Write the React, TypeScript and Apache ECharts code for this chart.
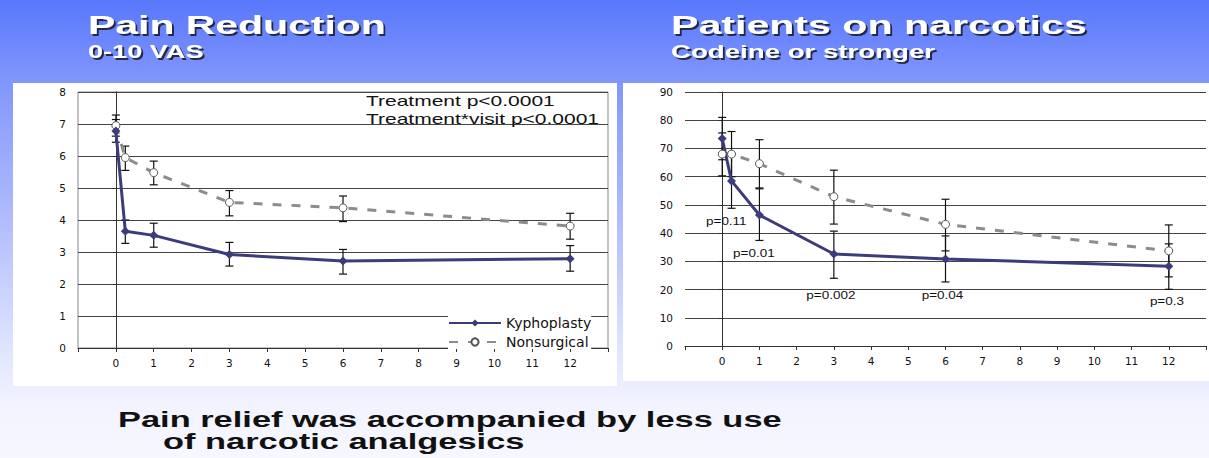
import React, { useEffect, useRef } from 'react';
import * as echarts from 'echarts';

// ---- data ----
const months = [0, 0.25, 1, 3, 6, 12];

const painKypho = [6.78, 3.65, 3.52, 2.92, 2.72, 2.79];
const painKyphoLow = [6.43, 3.27, 3.15, 2.56, 2.31, 2.4];
const painKyphoHigh = [7.14, 4.0, 3.9, 3.3, 3.08, 3.2];
const painNon = [6.95, 5.95, 5.48, 4.55, 4.38, 3.81];
const painNonLow = [6.62, 5.55, 5.1, 4.13, 3.95, 3.4];
const painNonHigh = [7.28, 6.31, 5.84, 4.92, 4.75, 4.21];

const narcKypho = [73.5, 58.5, 46.4, 32.6, 30.8, 28.3];
const narcKyphoLow = [66, 48.8, 37.4, 24, 22.7, 20.1];
const narcKyphoHigh = [81, 68.2, 55.7, 40.7, 39, 36.2];
const narcNon = [68, 68, 64.6, 52.9, 43.1, 33.7];
const narcNonLow = [60.3, 60, 56, 43.2, 33.7, 24.5];
const narcNonHigh = [75.5, 76, 73.1, 62.3, 52, 42.9];

const pLabels = ['p=0.11', 'p=0.01', 'p=0.002', 'p=0.04', 'p=0.3'];
const pLabelX = [0.11, 0.85, 2.92, 5.92, 11.95];
const pLabelY = [44, 32.8, 18, 18, 15.6];

const xMin = -1;
const xMax = 13;
const painMax = 8;
const narcMax = 90;

const KYPHO = '#3c3c7c';
const NON = '#8c8c8c';
const FONT = '"Liberation Sans", Arial, Helvetica, sans-serif';
const TICKFONT = '"DejaVu Sans", "Liberation Sans", sans-serif';

const errorBar = (params: any, api: any) => {
  const x = api.value(0);
  const lo = api.coord([x, api.value(1)]);
  const hi = api.coord([x, api.value(2)]);
  const hw = 4;
  const st = { stroke: '#111', lineWidth: 1.2 };
  return {
    type: 'group',
    children: [
      { type: 'line', shape: { x1: lo[0], y1: lo[1], x2: hi[0], y2: hi[1] }, style: st },
      { type: 'line', shape: { x1: lo[0] - hw, y1: lo[1], x2: lo[0] + hw, y2: lo[1] }, style: st },
      { type: 'line', shape: { x1: hi[0] - hw, y1: hi[1], x2: hi[0] + hw, y2: hi[1] }, style: st },
    ],
  };
};

const pLabelItem = (params: any, api: any) => {
  const p = api.coord([api.value(0), api.value(1)]);
  return {
    type: 'text',
    x: p[0],
    y: p[1],
    scaleX: 1.35,
    style: {
      text: pLabels[params.dataIndex],
      fontSize: 10,
      fontFamily: FONT,
      fill: '#111',
      align: 'center',
      verticalAlign: 'middle',
    },
  };
};

const mkX = (gi: number) => ({
  type: 'value',
  gridIndex: gi,
  min: xMin,
  max: xMax,
  interval: 1,
  axisLine: { show: true, lineStyle: { color: '#333', width: 1 } },
  axisTick: { show: true, inside: false, length: 4, lineStyle: { color: '#333' } },
  axisLabel: {
    margin: 9,
    fontSize: 10.5,
    fontFamily: TICKFONT,
    color: '#111',
    formatter: (v: number) => (v < 0 || v > 12 ? '' : String(v)),
  },
  splitLine: { show: false },
});

const mkY = (gi: number, max: number, interval: number) => ({
  type: 'value',
  gridIndex: gi,
  min: 0,
  max,
  interval,
  axisLine: { show: true, lineStyle: { color: '#333', width: 1 } },
  axisTick: { show: true, inside: false, length: 4, lineStyle: { color: '#333' } },
  axisLabel: { margin: 12, fontSize: 10.5, fontFamily: TICKFONT, color: '#111' },
  splitLine: { show: true, lineStyle: { color: '#444', width: 1 } },
});

const lineSeries = (name: string, gi: number, ys: number[], kypho: boolean) => ({
  type: 'line',
  name,
  xAxisIndex: gi,
  yAxisIndex: gi,
  z: 3,
  data: months.map((m, i) => [m, ys[i]]),
  symbol: kypho ? 'diamond' : 'circle',
  symbolSize: kypho ? 9 : 8,
  showSymbol: true,
  itemStyle: kypho
    ? { color: KYPHO }
    : { color: '#fff', borderColor: '#555', borderWidth: 1 },
  lineStyle: kypho
    ? { color: KYPHO, width: 3 }
    : { color: NON, width: 3, type: [9, 10] },
});

const errSeries = (gi: number, lo: number[], hi: number[]) => ({
  type: 'custom',
  xAxisIndex: gi,
  yAxisIndex: gi,
  z: 2,
  renderItem: errorBar,
  encode: { x: 0, y: [1, 2] },
  data: months.map((m, i) => [m, lo[i], hi[i]]),
});

const titleText = (text: string, x: number, y: number, size: number, sx: number) => ({
  type: 'text',
  x,
  y,
  scaleX: sx,
  z: 20,
  style: {
    text,
    fontSize: size,
    fontWeight: 'bold',
    fontFamily: FONT,
    fill: '#ffffff',
    align: 'left',
    verticalAlign: 'middle',
    textShadowColor: 'rgba(20,20,40,0.85)',
    textShadowOffsetX: 2,
    textShadowOffsetY: 2,
    textShadowBlur: 1,
  },
});

const plainText = (text: string, x: number, y: number, size: number, sx: number, bold: boolean) => ({
  type: 'text',
  x,
  y,
  scaleX: sx,
  z: 20,
  style: {
    text,
    fontSize: size,
    fontWeight: bold ? 'bold' : 'normal',
    fontFamily: FONT,
    fill: '#111',
    align: 'left',
    verticalAlign: 'middle',
  },
});

export default function App() {
  const ref = useRef<HTMLDivElement>(null);
  useEffect(() => {
    if (!ref.current) return;
    const chart = echarts.init(ref.current, undefined, { renderer: 'svg' });
    chart.setOption({
      animation: false,
      textStyle: { fontFamily: FONT },
      grid: [
        { left: 78, top: 92, width: 530, height: 256, show: true, borderColor: '#888', borderWidth: 1, backgroundColor: 'transparent' },
        { left: 685, top: 92, width: 526, height: 254 },
      ],
      xAxis: [mkX(0), mkX(1)],
      yAxis: [mkY(0, painMax, 1), mkY(1, narcMax, 10)],
      legend: {
        data: ['Kyphoplasty', 'Nonsurgical'],
        orient: 'vertical',
        left: 448,
        top: 316,
        itemWidth: 52,
        itemHeight: 9,
        itemGap: 5,
        textStyle: { fontSize: 14, fontFamily: TICKFONT, color: '#111' },
        backgroundColor: '#fff',
        padding: 0,
      },
      series: [
        errSeries(0, painNonLow, painNonHigh),
        errSeries(0, painKyphoLow, painKyphoHigh),
        lineSeries('Nonsurgical', 0, painNon, false),
        lineSeries('Kyphoplasty', 0, painKypho, true),
        errSeries(1, narcNonLow, narcNonHigh),
        errSeries(1, narcKyphoLow, narcKyphoHigh),
        lineSeries('Nonsurgical', 1, narcNon, false),
        lineSeries('Kyphoplasty', 1, narcKypho, true),
        {
          type: 'custom',
          xAxisIndex: 1,
          yAxisIndex: 1,
          z: 4,
          renderItem: pLabelItem,
          encode: { x: 0, y: 1 },
          data: pLabelX.map((x, i) => [x, pLabelY[i]]),
        },
      ],
      graphic: [
        { type: 'rect', z: -10, shape: { x: 13, y: 83, width: 604, height: 303 }, style: { fill: '#ffffff' } },
        { type: 'rect', z: -10, shape: { x: 623, y: 83, width: 586, height: 298 }, style: { fill: '#ffffff' } },
        titleText('Pain Reduction', 88, 25, 25, 1.637),
        titleText('0-10 VAS', 88, 52, 17.5, 1.55),
        titleText('Patients on narcotics', 671, 25, 25, 1.645),
        titleText('Codeine or stronger', 671, 52, 17.5, 1.58),
        plainText('Treatment p<0.0001', 366, 101, 14, 1.5, false),
        plainText('Treatment*visit p<0.0001', 366, 119, 14, 1.5, false),
        plainText('Pain relief was accompanied by less use', 118, 419, 22, 1.565, true),
        plainText('of narcotic analgesics', 163, 441, 22, 1.565, true),
      ],
    });
    return () => chart.dispose();
  }, []);
  return (
    <div
      ref={ref}
      style={{
        position: 'fixed',
        left: 0,
        top: 0,
        width: 1209,
        height: 458,
        background:
          'linear-gradient(to bottom, #5878fc 0%, #8196fd 17.5%, #aab7fd 44%, #dfe4fe 76%, #f2f3ff 88%, #f7f7ff 100%)',
      }}
    />
  );
}
